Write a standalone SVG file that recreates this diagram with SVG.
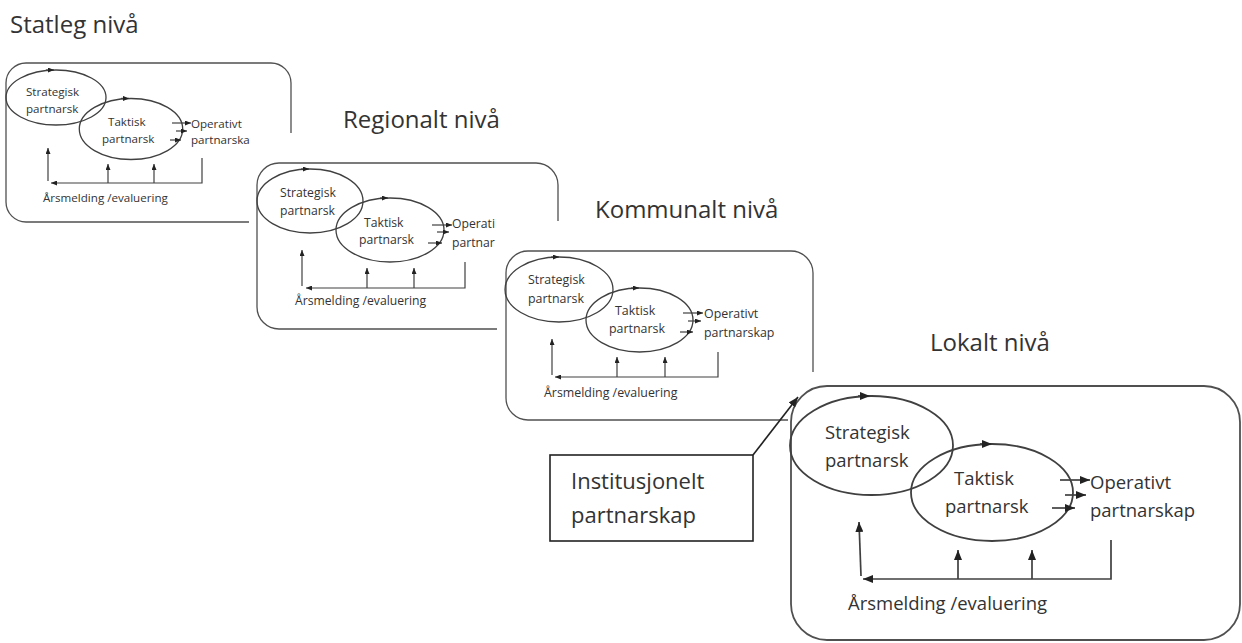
<svg xmlns="http://www.w3.org/2000/svg" width="1242" height="643" viewBox="0 0 1242 643">
<defs>
<style>
.bg{fill:#fff}
.frame{fill:none;stroke:#505050;stroke-width:1.3}
.frame4{fill:none;stroke:#505050;stroke-width:1.8}
.ell{fill:none;stroke:#404040;stroke-width:1.3}
.ell4{fill:none;stroke:#404040;stroke-width:1.8}
.ln{fill:none;stroke:#404040;stroke-width:1.2}
.ln4{fill:none;stroke:#404040;stroke-width:1.7}
.t{font-family:"Open Sans","DejaVu Sans",sans-serif;fill:#333}
.title{font-size:24px}
.s1{font-size:11.6px}
.s2{font-size:12.2px}
.s3{font-size:12.4px}
.s4{font-size:18.5px}
.call{font-size:22px}
</style>
<marker id="a" viewBox="0 0 10 10" refX="10" refY="5" markerWidth="6" markerHeight="5" markerUnits="userSpaceOnUse" orient="auto" preserveAspectRatio="none"><path d="M0,0 L10,5 L0,10 z" fill="#222"/></marker>
<marker id="b" viewBox="0 0 10 10" refX="10" refY="5" markerWidth="10" markerHeight="8" markerUnits="userSpaceOnUse" orient="auto" preserveAspectRatio="none"><path d="M0,0 L10,5 L0,10 z" fill="#222"/></marker>
</defs>
<rect class="bg" x="0" y="0" width="1242" height="643"/>

<g id="title-statleg"><text class="t title" x="10" y="33">Statleg nivå</text></g>
<g id="title-regionalt"><text class="t title" x="343" y="128">Regionalt nivå</text></g>
<g id="title-kommunalt"><text class="t title" x="595" y="218">Kommunalt nivå</text></g>
<g id="title-lokalt"><text class="t title" x="930" y="351">Lokalt nivå</text></g>

<!-- Panel 1 -->
<g id="panel-statleg">
<path class="frame" d="M291,133 L291,83 A20,20 0 0 0 271,63 L26,63 A20,20 0 0 0 6,83 L6,202 A20,20 0 0 0 26,222 L249,222"/>
<ellipse class="ell" cx="56" cy="97.5" rx="50" ry="27.5"/>
<ellipse class="ell" cx="131" cy="129" rx="51.7" ry="30.5"/>
<text class="t s1" x="26" y="96">Strategisk</text>
<text class="t s1" x="26" y="113">partnarsk</text>
<text class="t s1" x="108" y="126">Taktisk</text>
<text class="t s1" x="102" y="143">partnarsk</text>
<text class="t s1" x="191" y="128">Operativt</text>
<text class="t s1" x="191" y="144">partnarska</text>
<text class="t s1" x="43" y="202">Årsmelding /evaluering</text>
</g>

<!-- Panel 2 -->
<g id="panel-regionalt">
<path class="frame" d="M558,221 L558,185 A22,22 0 0 0 536,163 L279,163 A22,22 0 0 0 257,185 L257,307 A22,22 0 0 0 279,329 L497,329"/>
<ellipse class="ell" cx="310" cy="201" rx="53" ry="32"/>
<ellipse class="ell" cx="390" cy="230" rx="54" ry="32"/>
<text class="t s2" x="280" y="197">Strategisk</text>
<text class="t s2" x="280" y="215">partnarsk</text>
<text class="t s2" x="364" y="227">Taktisk</text>
<text class="t s2" x="359" y="244">partnarsk</text>
<text class="t s2" x="452" y="228">Operati</text>
<text class="t s2" x="452" y="247">partnar</text>
<text class="t s2" x="295" y="305">Årsmelding /evaluering</text>
</g>

<!-- Panel 3 -->
<g id="panel-kommunalt">
<path class="frame" d="M813,372 L813,273 A22,22 0 0 0 791,251 L528,251 A22,22 0 0 0 506,273 L506,398 A22,22 0 0 0 528,420 L788,420"/>
<ellipse class="ell" cx="559" cy="289.5" rx="54" ry="32.5"/>
<ellipse class="ell" cx="639.5" cy="320" rx="53.5" ry="32"/>
<text class="t s3" x="528" y="284">Strategisk</text>
<text class="t s3" x="528" y="303">partnarsk</text>
<text class="t s3" x="615" y="315">Taktisk</text>
<text class="t s3" x="609" y="333">partnarsk</text>
<text class="t s3" x="704" y="318">Operativt</text>
<text class="t s3" x="704" y="337">partnarskap</text>
<text class="t s3" x="544" y="397">Årsmelding /evaluering</text>
</g>

<!-- Panel 4 -->
<g id="panel-lokalt">
<rect class="frame4" x="791" y="386" width="449" height="254" rx="36" ry="36"/>
<ellipse class="ell4" cx="871.5" cy="445.5" rx="81.5" ry="49.5"/>
<ellipse class="ell4" cx="992" cy="492.5" rx="81" ry="48.5"/>
<text class="t s4" x="825" y="439">Strategisk</text>
<text class="t s4" x="825" y="467">partnarsk</text>
<text class="t s4" x="954" y="485">Taktisk</text>
<text class="t s4" x="945" y="513">partnarsk</text>
<text class="t s4" x="1090" y="489">Operativt</text>
<text class="t s4" x="1090" y="517">partnarskap</text>
<text class="t s4" x="848" y="610">Årsmelding /evaluering</text>
</g>

<!-- Callout -->
<g id="callout-institusjonelt">
<rect x="550" y="455" width="203" height="86" fill="#fff" stroke="#222" stroke-width="1.6"/>
<text class="t call" x="571" y="489">Institusjonelt</text>
<text class="t call" x="571" y="523">partnarskap</text>
</g>

<g id="connectors">
<!-- panel 1 -->
<path class="ln" d="M46,70 L54,70" marker-end="url(#a)"/>
<path class="ln" d="M121,98.4 L129,98.4" marker-end="url(#a)"/>
<path class="ln" d="M172,123 L191,123" marker-end="url(#a)"/>
<path class="ln" d="M176,131 L187,131" marker-end="url(#a)"/>
<path class="ln" d="M170,140 L181,140" marker-end="url(#a)"/>
<path class="ln" d="M202,158 L202,183 L51,183" marker-end="url(#a)"/>
<path class="ln" d="M48,181 L48,148" marker-end="url(#a)"/>
<path class="ln" d="M108,183 L108,164" marker-end="url(#a)"/>
<path class="ln" d="M154,183 L154,164" marker-end="url(#a)"/>
<!-- panel 2 -->
<path class="ln" d="M301,169 L309,169" marker-end="url(#a)"/>
<path class="ln" d="M380,198 L388,198" marker-end="url(#a)"/>
<path class="ln" d="M432,225 L452,225" marker-end="url(#a)"/>
<path class="ln" d="M437,232 L449,232" marker-end="url(#a)"/>
<path class="ln" d="M428,243 L442,243" marker-end="url(#a)"/>
<path class="ln" d="M465,262 L465,288 L306,288" marker-end="url(#a)"/>
<path class="ln" d="M302,286 L302,250" marker-end="url(#a)"/>
<path class="ln" d="M367,288 L367,268" marker-end="url(#a)"/>
<path class="ln" d="M414,288 L414,268" marker-end="url(#a)"/>
<!-- panel 3 -->
<path class="ln" d="M551,257 L559,257" marker-end="url(#a)"/>
<path class="ln" d="M631,288 L639,288" marker-end="url(#a)"/>
<path class="ln" d="M683,313 L703,313" marker-end="url(#a)"/>
<path class="ln" d="M688,321 L701,321" marker-end="url(#a)"/>
<path class="ln" d="M680,332 L693,332" marker-end="url(#a)"/>
<path class="ln" d="M718,352 L718,377 L555,377" marker-end="url(#a)"/>
<path class="ln" d="M552,375 L552,339" marker-end="url(#a)"/>
<path class="ln" d="M617,377 L617,357" marker-end="url(#a)"/>
<path class="ln" d="M665,377 L665,357" marker-end="url(#a)"/>
<!-- panel 4 -->
<path class="ln4" d="M858,396 L870,396" marker-end="url(#b)"/>
<path class="ln4" d="M980,444 L992,444" marker-end="url(#b)"/>
<path class="ln4" d="M1060,480 L1090,480" marker-end="url(#b)"/>
<path class="ln4" d="M1065,495 L1086,495" marker-end="url(#b)"/>
<path class="ln4" d="M1052,508 L1075,508" marker-end="url(#b)"/>
<path class="ln4" d="M1111,540 L1111,579 L863,579" marker-end="url(#b)"/>
<path class="ln4" d="M861,576 L859,522" marker-end="url(#b)"/>
<path class="ln4" d="M958,579 L958,550" marker-end="url(#b)"/>
<path class="ln4" d="M1032,579 L1032,550" marker-end="url(#b)"/>
<!-- callout -->
<path d="M753,455 L798,397" fill="none" stroke="#222" stroke-width="1.6" marker-end="url(#b)"/>
</g>
</svg>
